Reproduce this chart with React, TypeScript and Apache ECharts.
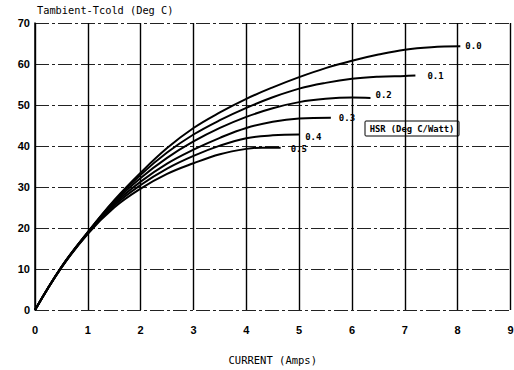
import React, { useEffect, useRef } from "react";
import * as echarts from "echarts";

const xTicks = [0, 1, 2, 3, 4, 5, 6, 7, 8, 9];
const yTicks = [0, 10, 20, 30, 40, 50, 60, 70];

const hsrNames = ["0.0", "0.1", "0.2", "0.3", "0.4", "0.5"];

const current00 = [0, 0.5, 1, 1.5, 2, 2.5, 3, 3.5, 4, 4.5, 5, 5.5, 6, 6.5, 7, 7.5, 8.05];
const temp00 = [0, 10.5, 19, 26.8, 33.5, 39.5, 44.4, 48.2, 51.5, 54.3, 56.8, 59, 60.8, 62.3, 63.5, 64.1, 64.3];

const current01 = [0, 0.5, 1, 1.5, 2, 2.5, 3, 3.5, 4, 4.5, 5, 5.5, 6, 6.5, 7, 7.2];
const temp01 = [0, 10.5, 19, 26.6, 33, 38.4, 42.8, 46.3, 49.3, 51.9, 54, 55.4, 56.4, 56.9, 57.1, 57.2];

const current02 = [0, 0.5, 1, 1.5, 2, 2.5, 3, 3.5, 4, 4.5, 5, 5.5, 6, 6.35];
const temp02 = [0, 10.5, 18.9, 26.3, 32.2, 37.1, 41.1, 44.4, 47.1, 49.2, 50.7, 51.5, 51.8, 51.7];

const current03 = [0, 0.5, 1, 1.5, 2, 2.5, 3, 3.5, 4, 4.5, 5, 5.6];
const temp03 = [0, 10.4, 18.8, 25.9, 31.3, 35.7, 39.1, 42, 44.4, 45.9, 46.7, 46.9];

const current04 = [0, 0.5, 1, 1.5, 2, 2.5, 3, 3.5, 4, 4.5, 5.0];
const temp04 = [0, 10.4, 18.7, 25.5, 30.5, 34.5, 37.6, 40.1, 41.9, 42.6, 42.8];

const current05 = [0, 0.5, 1, 1.5, 2, 2.5, 3, 3.5, 4, 4.3, 4.65];
const temp05 = [0, 10.3, 18.6, 25, 29.6, 33.2, 35.8, 38, 39.3, 39.6, 39.6];

const curves = [
  [current00, temp00],
  [current01, temp01],
  [current02, temp02],
  [current03, temp03],
  [current04, temp04],
  [current05, temp05],
];
const labelGaps = [5, 12, 5, 8, 6, 10];
const labelDy = [0, 1, -3, 0, 2, 1];

const MONO = "'DejaVu Sans Mono', monospace";

export default function App() {
  const ref = useRef<HTMLDivElement>(null);
  useEffect(() => {
    document.body.style.margin = "0";
    if (!ref.current) return;
    const chart = echarts.init(ref.current, null, { renderer: "svg" });
    const series = curves.map(([xs, ys], i) => ({
      name: hsrNames[i],
      type: "line",
      data: xs.map((x, k) => [x, ys[k]]),
      smooth: 0.4,
      showSymbol: false,
      symbol: "none",
      lineStyle: { color: "#000", width: 2 },
      endLabel: {
        show: true,
        formatter: hsrNames[i],
        distance: labelGaps[i],
        offset: [0, labelDy[i]],
        fontFamily: MONO,
        fontSize: 9,
        fontWeight: "bold",
        color: "#000",
      },
      z: 3,
    }));
    chart.setOption({
      animation: false,
      backgroundColor: "#fff",
      grid: {
        left: 35,
        top: 23,
        width: 475.5,
        height: 287,
        containLabel: false,
        outerBoundsMode: "none",
      },
      xAxis: {
        type: "value",
        min: xTicks[0],
        max: xTicks[xTicks.length - 1],
        interval: 1,
        name: "CURRENT (Amps)",
        nameLocation: "middle",
        nameGap: 44,
        nameTextStyle: { fontFamily: MONO, fontSize: 10.5, color: "#000" },
        axisLine: { show: false },
        axisTick: { show: false },
        axisLabel: {
          margin: 14,
          fontFamily: "'Liberation Sans', Arial, sans-serif",
          fontSize: 11,
          fontWeight: "bold",
          color: "#000",
          formatter: (v: number) => String(v),
        },
        splitLine: { show: true, lineStyle: { color: "#000", width: 1.4, type: "solid" } },
      },
      yAxis: {
        type: "value",
        min: yTicks[0],
        max: yTicks[yTicks.length - 1],
        interval: 10,
        axisLine: { show: true, lineStyle: { color: "#000", width: 1.5 } },
        axisTick: { show: false },
        axisLabel: {
          margin: 5,
          fontFamily: "'Liberation Sans', Arial, sans-serif",
          fontSize: 11,
          fontWeight: "bold",
          color: "#000",
        },
        splitLine: {
          show: true,
          lineStyle: { color: "#222", width: 1.2, type: [14, 3, 3, 3] },
        },
      },
      graphic: [
        {
          type: "text",
          left: 37,
          top: 5,
          style: {
            text: "Tambient-Tcold (Deg C)",
            fontFamily: MONO,
            fontSize: 10.3,
            fill: "#000",
          },
        },
        {
          type: "rect",
          shape: { x: 365, y: 121, width: 94, height: 15, r: 1 },
          style: { fill: "rgba(0,0,0,0)", stroke: "#000", lineWidth: 1 },
          z: 10,
        },
        {
          type: "text",
          x: 412,
          y: 128.5,
          style: {
            text: "HSR (Deg C/Watt)",
            fontFamily: MONO,
            fontSize: 8.8,
            fontWeight: "bold",
            fill: "#000",
            align: "center",
            verticalAlign: "middle",
          },
          z: 10,
        },
      ],
      series,
    });
    return () => chart.dispose();
  }, []);
  return <div ref={ref} style={{ width: 514, height: 370 }} />;
}
